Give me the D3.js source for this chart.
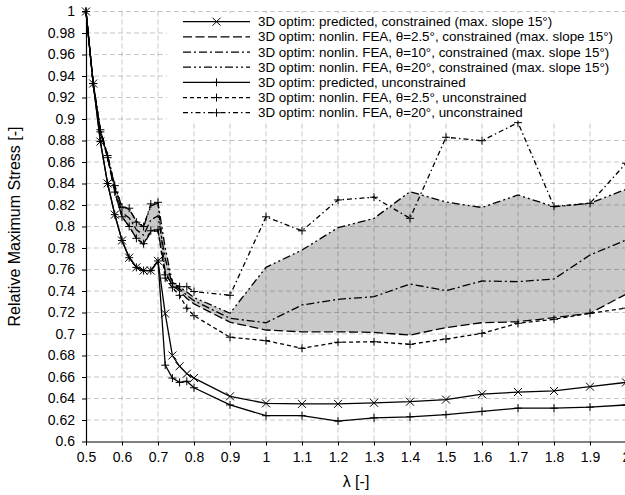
<!DOCTYPE html>
<html>
<head>
<meta charset="utf-8">
<script src="https://cdn.jsdelivr.net/npm/d3@7"></script>
<style>
  body { margin: 0; background: #fff; }
  text { font-family: "Liberation Sans", Arial, sans-serif; }
</style>
</head>
<body>
<div id="chart-area"></div>
<script>
// datos
const lambda = [0.5, 0.52, 0.54, 0.56, 0.58, 0.6, 0.62, 0.64, 0.66, 0.68, 0.7, 0.72, 0.74, 0.76, 0.78, 0.8,
	0.9, 1.0, 1.1, 1.2, 1.3, 1.4, 1.5, 1.6, 1.7, 1.8, 1.9, 2.0];

const predConstr = [1, 0.933, 0.879, 0.840, 0.811, 0.787, 0.771, 0.762, 0.759, 0.759, 0.768, 0.719, 0.680, 0.670, 0.663, 0.659,
	0.642, 0.6355, 0.635, 0.635, 0.636, 0.637, 0.639, 0.644, 0.646, 0.647, 0.651, 0.655];
const feaConstr25 = [1, 0.933, 0.888, 0.864, 0.832, 0.809, 0.800, 0.789, 0.783, 0.795, 0.796, 0.758, 0.745, 0.740, 0.733, 0.728,
	0.711, 0.7037, 0.702, 0.702, 0.7015, 0.699, 0.7059, 0.7105, 0.7114, 0.7152, 0.7193, 0.737];
const feaConstr10 = [1, 0.933, 0.889, 0.865, 0.836, 0.813, 0.808, 0.797, 0.792, 0.806, 0.810, 0.770, 0.746, 0.742, 0.736, 0.731,
	0.7146, 0.7105, 0.727, 0.7323, 0.7347, 0.7465, 0.7403, 0.7493, 0.7487, 0.7512, 0.7735, 0.7874];
const feaConstr20 = [1, 0.933, 0.890, 0.866, 0.838, 0.818, 0.816, 0.805, 0.800, 0.819, 0.822, 0.780, 0.748, 0.744, 0.739, 0.734,
	0.7193, 0.762, 0.7781, 0.7989, 0.8076, 0.8324, 0.8228, 0.8177, 0.8293, 0.8184, 0.8216, 0.8346];
const predUnconstr = [1, 0.933, 0.879, 0.840, 0.811, 0.787, 0.771, 0.762, 0.759, 0.759, 0.768, 0.671, 0.659, 0.655, 0.656, 0.650,
	0.634, 0.624, 0.624, 0.619, 0.622, 0.623, 0.625, 0.628, 0.631, 0.631, 0.632, 0.634];
const feaUnconstr25 = [1, 0.933, 0.888, 0.864, 0.832, 0.809, 0.800, 0.789, 0.784, 0.796, 0.797, 0.752, 0.743, 0.736, 0.724, 0.717,
	0.697, 0.6938, 0.6867, 0.6923, 0.6928, 0.6904, 0.6953, 0.7006, 0.710, 0.7137, 0.7193, 0.724];
const feaUnconstr20 = [1, 0.933, 0.890, 0.866, 0.838, 0.818, 0.817, 0.804, 0.800, 0.821, 0.8225, 0.755, 0.747, 0.744, 0.744, 0.7395,
	0.736, 0.809, 0.796, 0.8247, 0.8272, 0.8076, 0.883, 0.8798, 0.8966, 0.8187, 0.8216, 0.8588];

const seriesNames = [
	"3D optim: predicted, constrained (max. slope 15°)",
	"3D optim: nonlin. FEA, θ=2.5°, constrained (max. slope 15°)",
	"3D optim: nonlin. FEA, θ=10°, constrained (max. slope 15°)",
	"3D optim: nonlin. FEA, θ=20°, constrained (max. slope 15°)",
	"3D optim: predicted, unconstrained",
	"3D optim: nonlin. FEA, θ=2.5°, unconstrained",
	"3D optim: nonlin. FEA, θ=20°, unconstrained"
];

const xTicks = d3.range(0.5, 2.001, 0.1).map(d => +d.toFixed(1));
const yTicks = d3.range(0.6, 1.0001, 0.02).map(d => +d.toFixed(2));

// estilos de cada serie
const series = [
	{values: predConstr, dash: null, marker: "x"},
	{values: feaConstr25, dash: "9,3.5", marker: null},
	{values: feaConstr10, dash: "8,3,2,3", marker: null},
	{values: feaConstr20, dash: "8,3,2,3,2,3", marker: null},
	{values: predUnconstr, dash: null, marker: "+"},
	{values: feaUnconstr25, dash: "4,3", marker: "+"},
	{values: feaUnconstr20, dash: "5,3,1.5,3", marker: "+"}
].map((s, i) => ({...s, name: seriesNames[i]}));

const width = 625;
const height = 495;
const plot = {left: 86, right: 626, top: 11.5, bottom: 441.5};

//SVG
const svg = d3.select("#chart-area")
	.append("svg")
	.attr("width", width)
	.attr("height", height);

//Escalas
const x = d3.scaleLinear().domain([0.5, 2]).range([plot.left, plot.right]);
const y = d3.scaleLinear().domain([0.6, 1]).range([plot.bottom, plot.top]);

// zona gris entre theta=2.5 y theta=20 (restringido)
const band = d3.area()
	.x((d, i) => x(lambda[i]))
	.y0((d, i) => y(feaConstr25[i]))
	.y1((d, i) => y(feaConstr20[i]));

svg.append("path")
	.datum(lambda)
	.attr("d", band)
	.attr("fill", "#c9c9c9");

// rejilla
const grid = svg.append("g")
	.attr("stroke", "#000")
	.attr("stroke-opacity", 0.22)
	.attr("stroke-dasharray", "5,3");

grid.selectAll(".h").data(yTicks.filter(d => d > 0.6)).enter().append("line")
	.attr("x1", plot.left).attr("x2", plot.right)
	.attr("y1", d => y(d)).attr("y2", d => y(d));

grid.selectAll(".v").data(xTicks.filter(d => d > 0.5)).enter().append("line")
	.attr("x1", d => x(d)).attr("x2", d => x(d))
	.attr("y1", plot.top).attr("y2", plot.bottom);

// lineas
const line = d3.line()
	.x((d, i) => x(lambda[i]))
	.y(d => y(d));

function drawMarker(g, type, cx, cy) {
	const r = 4;
	if (type === "x") {
		g.append("path")
			.attr("d", `M${cx - r},${cy - r}L${cx + r},${cy + r}M${cx - r},${cy + r}L${cx + r},${cy - r}`);
	} else {
		g.append("path")
			.attr("d", `M${cx - r},${cy}L${cx + r},${cy}M${cx},${cy - r}L${cx},${cy + r}`);
	}
}

series.forEach((s) => {
	svg.append("path")
		.datum(s.values)
		.attr("d", line)
		.attr("fill", "none")
		.attr("stroke", "#000")
		.attr("stroke-width", 1.3)
		.attr("stroke-dasharray", s.dash);

	if (s.marker) {
		const mg = svg.append("g").attr("stroke", "#000").attr("stroke-width", 1).attr("fill", "none");
		s.values.forEach((v, i) => drawMarker(mg, s.marker, x(lambda[i]), y(v)));
	}
});

// ejes
const axisBottom = d3.axisBottom(x).tickValues(xTicks).tickSize(4).tickSizeOuter(0).tickPadding(7)
	.tickFormat(d => String(+d.toFixed(1)));
const axisLeft = d3.axisLeft(y).tickValues(yTicks).tickSize(4).tickSizeOuter(0).tickPadding(7)
	.tickFormat(d => String(+d.toFixed(2)));

const xGroup = svg.append("g").attr("transform", `translate(0, ${plot.bottom})`).call(axisBottom);
const yGroup = svg.append("g").attr("transform", `translate(${plot.left}, 0)`).call(axisLeft);

[xGroup, yGroup].forEach(g => {
	g.selectAll("text").attr("font-size", "14px").attr("fill", "#000");
	g.selectAll("line").attr("stroke", "#000");
	g.select(".domain").attr("stroke", "#000").attr("stroke-width", 1.2);
	g.attr("font-family", null);
});

// titulos de ejes
svg.append("text")
	.attr("x", (plot.left + plot.right) / 2)
	.attr("y", 487)
	.attr("font-size", "16px")
	.attr("text-anchor", "middle")
	.text("λ [-]");

svg.append("text")
	.attr("x", -(plot.top + plot.bottom) / 2)
	.attr("y", 20)
	.attr("font-size", "16px")
	.attr("text-anchor", "middle")
	.attr("transform", "rotate(-90)")
	.text("Relative Maximum Stress [-]");

// leyenda
const legend = svg.append("g");
legend.append("rect")
	.attr("x", 167).attr("y", 13.5)
	.attr("width", 470).attr("height", 107)
	.attr("fill", "#fff");

series.forEach((s, i) => {
	const ly = 21.7 + i * 15.17;
	const row = legend.append("g");
	row.append("line")
		.attr("x1", 183).attr("x2", 250)
		.attr("y1", ly).attr("y2", ly)
		.attr("stroke", "#000")
		.attr("stroke-width", 1.2)
		.attr("stroke-dasharray", s.dash);
	if (s.marker) {
		const mg = row.append("g").attr("stroke", "#000").attr("fill", "none");
		drawMarker(mg, s.marker, 216.5, ly);
	}
	row.append("text")
		.attr("x", 258)
		.attr("y", ly + 4.6)
		.attr("font-size", "13.4px")
		.text(s.name);
});
</script>
</body>
</html>
